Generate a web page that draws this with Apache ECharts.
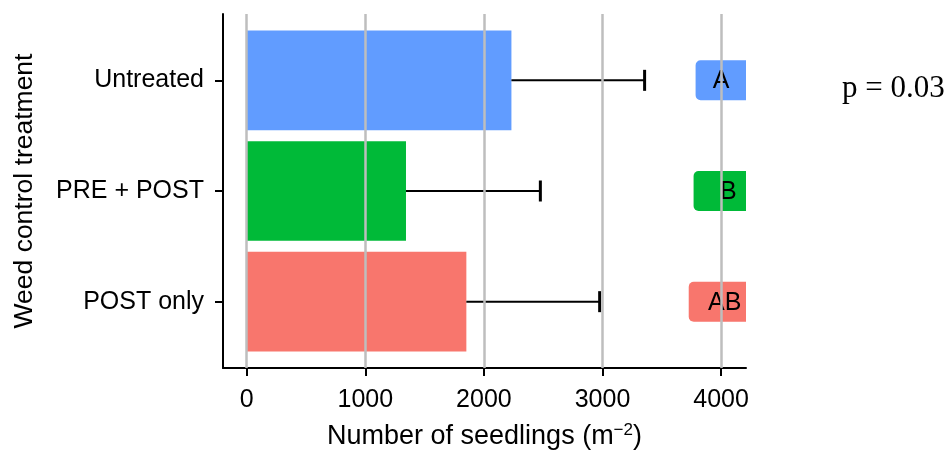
<!DOCTYPE html>
<html>
<head>
<meta charset="utf-8">
<script src="https://cdn.jsdelivr.net/npm/echarts@6/dist/echarts.min.js"></script>
<style>html,body{margin:0;padding:0;background:#fff}#c{width:950px;height:452px}</style>
</head>
<body>
<div id="c"></div>
<script>
// ---- data ----
var categories = ['Untreated', 'PRE + POST', 'POST only'];
var means = [2232, 1343, 1852];
var upperErr = [3355, 2476, 2976];
var letters = ['A', 'B', 'AB'];
var letterTextX = [4000, 4062, 4030];
var letterBoxLeft = [3785, 3768, 3727];
var xTicks = [0, 1000, 2000, 3000, 4000];
var barColors = ['#619CFF', '#00BA38', '#F8766D'];
var pText = 'p = 0.03';

var chart = echarts.init(document.getElementById('c'), null, {renderer: 'canvas'});
var FONT = 'Liberation Sans, Arial, sans-serif';
var L = 223, R = 204;

var option = {
  animation: false,
  grid: [
    {left: L, right: R, top: 14, bottom: 84, containLabel: false, outerBoundsMode: 'none'},
    {left: L, right: R, top: 25, bottom: 95, containLabel: false, outerBoundsMode: 'none'}
  ],
  xAxis: [
    {
      gridIndex: 0, type: 'value', min: -200, max: 4210,
      axisLine: {show: true, onZero: false, lineStyle: {color: '#000', width: 2}},
      axisTick: {show: true, length: 8, lineStyle: {color: '#000', width: 2}, customValues: xTicks},
      axisLabel: {show: true, color: '#000', fontSize: 25, fontFamily: FONT, margin: 20, customValues: xTicks,
                  formatter: function (v) { return String(v); }},
      splitLine: {show: false},
      name: '{a|Number of seedlings (m}{s|\u22122}{a|)}',
      nameLocation: 'middle', nameGap: 54,
      nameTextStyle: {
        color: '#000', fontSize: 27, fontFamily: FONT,
        rich: {
          a: {fontSize: 27, fontFamily: FONT, color: '#000', lineHeight: 30},
          s: {fontSize: 17, fontFamily: FONT, color: '#000', lineHeight: 18, verticalAlign: 'top'}
        }
      }
    },
    {
      gridIndex: 1, type: 'value', min: -200, max: 4210,
      axisLine: {show: false, onZero: false}, axisTick: {show: false}, axisLabel: {show: false}, splitLine: {show: false}
    }
  ],
  yAxis: [
    {
      gridIndex: 0, type: 'value', min: 0, max: 1,
      axisLine: {show: true, onZero: false, lineStyle: {color: '#000', width: 2}},
      axisTick: {show: false}, axisLabel: {show: false}, splitLine: {show: false},
      name: 'Weed control treatment', nameLocation: 'middle', nameGap: 185,
      nameTextStyle: {color: '#000', fontSize: 26.5, fontFamily: FONT}
    },
    {
      gridIndex: 1, type: 'category', data: categories, inverse: true,
      axisLine: {show: false, onZero: false},
      axisTick: {show: true, length: 8, alignWithLabel: true, lineStyle: {color: '#000', width: 2}},
      axisLabel: {color: '#000', fontSize: 25, fontFamily: FONT, margin: 19},
      splitLine: {show: false}
    }
  ],
  series: [
    {
      // vertical grid lines at tick values
      type: 'line', xAxisIndex: 0, yAxisIndex: 0, data: [], silent: true,
      markLine: {
        silent: true, symbol: 'none', label: {show: false},
        lineStyle: {color: '#bebebe', width: 2.5, type: 'solid'},
        data: xTicks.map(function (v) { return {xAxis: v}; })
      },
      z: 0
    },
    {
      type: 'bar', xAxisIndex: 1, yAxisIndex: 1, barWidth: '90%',
      data: means.map(function (v, i) { return {value: v, itemStyle: {color: barColors[i]}}; }),
      z: 2
    },
    {
      type: 'custom', xAxisIndex: 1, yAxisIndex: 1, z: 3,
      data: means.map(function (v, i) { return [v, i, upperErr[i]]; }),
      renderItem: function (params, api) {
        var p0 = api.coord([api.value(0), api.value(1)]);
        var p1 = api.coord([api.value(2), api.value(1)]);
        var h = 21;
        return {
          type: 'group',
          children: [
            {type: 'line', shape: {x1: p0[0], y1: p0[1], x2: p1[0], y2: p1[1]}, style: {stroke: '#000', lineWidth: 2}},
            {type: 'line', shape: {x1: p1[0], y1: p1[1] - h / 2, x2: p1[0], y2: p1[1] + h / 2}, style: {stroke: '#000', lineWidth: 3}}
          ]
        };
      }
    },
    {
      type: 'custom', xAxisIndex: 1, yAxisIndex: 1, z: 4, clip: true,
      data: letters.map(function (t, i) { return [letterBoxLeft[i], i, letterTextX[i]]; }),
      renderItem: function (params, api) {
        var i = params.dataIndex;
        var pl = api.coord([api.value(0), api.value(1)]);
        var pt = api.coord([api.value(2), api.value(1)]);
        var h = 40;
        return {
          type: 'group',
          children: [
            {type: 'rect', shape: {x: pl[0], y: pl[1] - h / 2, width: 120, height: h, r: 5},
             style: {fill: barColors[i]}},
            {type: 'text', x: pt[0], y: pt[1] + 1,
             style: {text: letters[i], fill: '#000', font: '25px ' + FONT, align: 'center', verticalAlign: 'middle'}}
          ]
        };
      }
    }
  ],
  graphic: [
    {type: 'text', left: 842, top: 73, style: {text: pText, fill: '#000', font: '31px "Liberation Serif", "Times New Roman", serif'}}
  ]
};
chart.setOption(option);
</script>
</body>
</html>
